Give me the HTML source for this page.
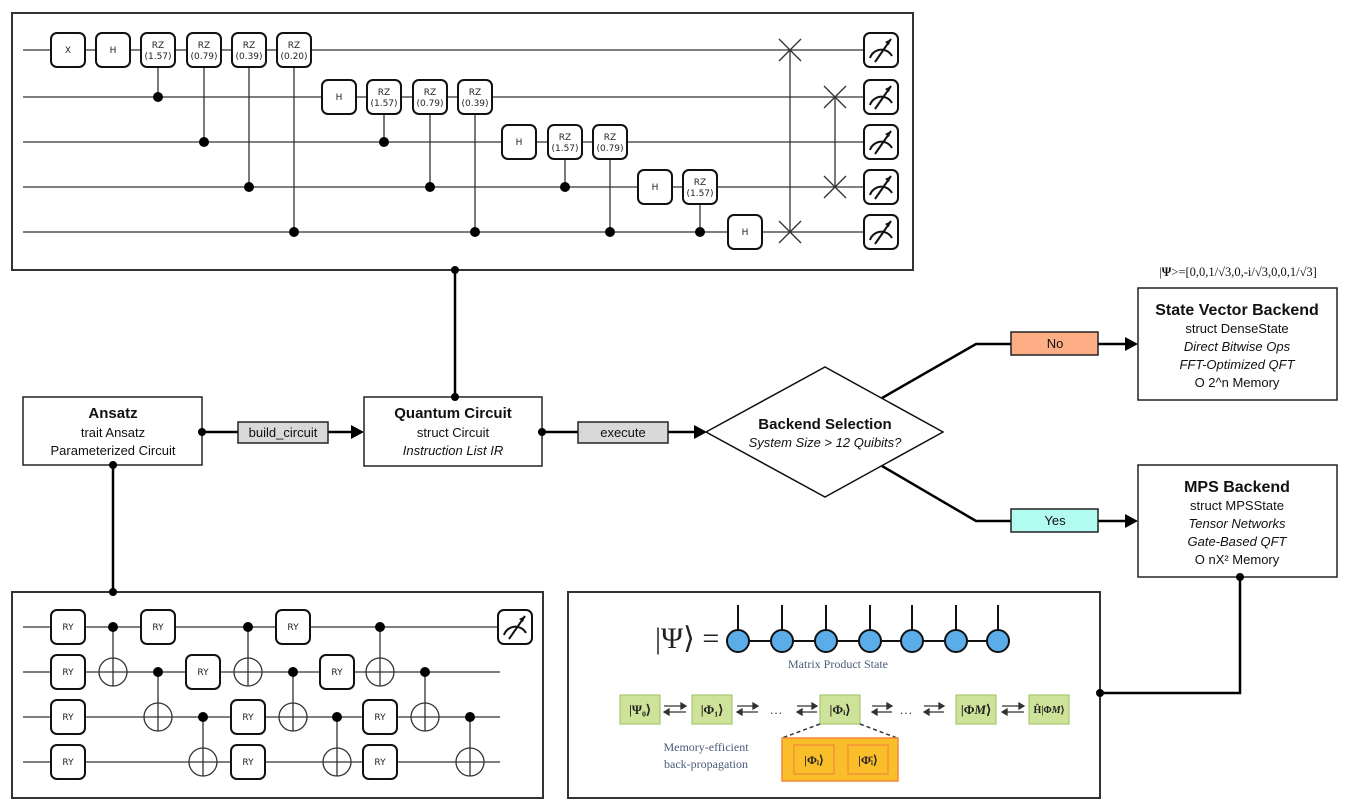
<!DOCTYPE html>
<html><head><meta charset="utf-8"><style>
html,body{margin:0;padding:0;background:#fff;}
svg{display:block;}
.g{fill:#fff;stroke:#111;stroke-width:2;}
.w{stroke:#333;stroke-width:1.3;fill:none;}
.gt{font-family:"DejaVu Sans",sans-serif;font-size:9px;fill:#222;text-anchor:middle;}
.n{font-family:"Liberation Sans",sans-serif;text-anchor:middle;fill:#111;}
.sr{font-family:"Liberation Serif",serif;}
</style></head><body>
<svg width="1364" height="809" viewBox="0 0 1364 809" xmlns="http://www.w3.org/2000/svg">
<defs>
<g id="m"><rect x="-17" y="-17" width="34" height="34" rx="6" class="g"/><path d="M-11,8 A12,12 0 0 1 11,6" fill="none" stroke="#111" stroke-width="2"/><line x1="-6" y1="12" x2="10" y2="-11" stroke="#111" stroke-width="2"/><path d="M10,-11 l-6,3 l4,3 z" fill="#111"/></g>
<g id="x"><line x1="-11" y1="-11" x2="11" y2="11" stroke="#333" stroke-width="1.3"/><line x1="-11" y1="11" x2="11" y2="-11" stroke="#333" stroke-width="1.3"/></g>
<g id="t"><circle r="14" fill="#fff" stroke="#333" stroke-width="1.3"/><line x1="-14" x2="14" stroke="#333" stroke-width="1.3"/><line y1="-14" y2="14" stroke="#333" stroke-width="1.3"/></g>
</defs>

<!-- TOP PANEL -->
<rect x="12" y="13" width="901" height="257" fill="#fff" stroke="#333" stroke-width="2"/>
<g class="w">
<line x1="23" y1="50" x2="865" y2="50"/><line x1="23" y1="97" x2="865" y2="97"/><line x1="23" y1="142" x2="865" y2="142"/><line x1="23" y1="187" x2="865" y2="187"/><line x1="23" y1="232" x2="865" y2="232"/>
<line x1="158" y1="50" x2="158" y2="97"/><line x1="204" y1="50" x2="204" y2="142"/><line x1="249" y1="50" x2="249" y2="187"/><line x1="294" y1="50" x2="294" y2="232"/>
<line x1="384" y1="97" x2="384" y2="142"/><line x1="430" y1="97" x2="430" y2="187"/><line x1="475" y1="97" x2="475" y2="232"/>
<line x1="565" y1="142" x2="565" y2="187"/><line x1="610" y1="142" x2="610" y2="232"/><line x1="700" y1="187" x2="700" y2="232"/>
<line x1="790" y1="50" x2="790" y2="232"/><line x1="835" y1="97" x2="835" y2="187"/>
</g>
<g fill="#000"><circle cx="158" cy="97" r="5"/><circle cx="204" cy="142" r="5"/><circle cx="249" cy="187" r="5"/><circle cx="294" cy="232" r="5"/><circle cx="384" cy="142" r="5"/><circle cx="430" cy="187" r="5"/><circle cx="475" cy="232" r="5"/><circle cx="565" cy="187" r="5"/><circle cx="610" cy="232" r="5"/><circle cx="700" cy="232" r="5"/></g>
<use href="#x" x="790" y="50"/><use href="#x" x="790" y="232"/><use href="#x" x="835" y="97"/><use href="#x" x="835" y="187"/>
<g>
<rect x="51" y="33" width="34" height="34" rx="6" class="g"/><text x="68" y="53" class="gt">X</text>
<rect x="96" y="33" width="34" height="34" rx="6" class="g"/><text x="113" y="53" class="gt">H</text>
<rect x="141" y="33" width="34" height="34" rx="6" class="g"/><text x="158" y="48" class="gt">RZ</text><text x="158" y="59" class="gt">(1.57)</text>
<rect x="187" y="33" width="34" height="34" rx="6" class="g"/><text x="204" y="48" class="gt">RZ</text><text x="204" y="59" class="gt">(0.79)</text>
<rect x="232" y="33" width="34" height="34" rx="6" class="g"/><text x="249" y="48" class="gt">RZ</text><text x="249" y="59" class="gt">(0.39)</text>
<rect x="277" y="33" width="34" height="34" rx="6" class="g"/><text x="294" y="48" class="gt">RZ</text><text x="294" y="59" class="gt">(0.20)</text>
<rect x="322" y="80" width="34" height="34" rx="6" class="g"/><text x="339" y="100" class="gt">H</text>
<rect x="367" y="80" width="34" height="34" rx="6" class="g"/><text x="384" y="95" class="gt">RZ</text><text x="384" y="106" class="gt">(1.57)</text>
<rect x="413" y="80" width="34" height="34" rx="6" class="g"/><text x="430" y="95" class="gt">RZ</text><text x="430" y="106" class="gt">(0.79)</text>
<rect x="458" y="80" width="34" height="34" rx="6" class="g"/><text x="475" y="95" class="gt">RZ</text><text x="475" y="106" class="gt">(0.39)</text>
<rect x="502" y="125" width="34" height="34" rx="6" class="g"/><text x="519" y="145" class="gt">H</text>
<rect x="548" y="125" width="34" height="34" rx="6" class="g"/><text x="565" y="140" class="gt">RZ</text><text x="565" y="151" class="gt">(1.57)</text>
<rect x="593" y="125" width="34" height="34" rx="6" class="g"/><text x="610" y="140" class="gt">RZ</text><text x="610" y="151" class="gt">(0.79)</text>
<rect x="638" y="170" width="34" height="34" rx="6" class="g"/><text x="655" y="190" class="gt">H</text>
<rect x="683" y="170" width="34" height="34" rx="6" class="g"/><text x="700" y="185" class="gt">RZ</text><text x="700" y="196" class="gt">(1.57)</text>
<rect x="728" y="215" width="34" height="34" rx="6" class="g"/><text x="745" y="235" class="gt">H</text>
</g>
<use href="#m" x="881" y="50"/><use href="#m" x="881" y="97"/><use href="#m" x="881" y="142"/><use href="#m" x="881" y="187"/><use href="#m" x="881" y="232"/>

<!-- BOTTOM LEFT PANEL -->
<rect x="12" y="592" width="531" height="206" fill="#fff" stroke="#333" stroke-width="2"/>
<g class="w">
<line x1="23" y1="627" x2="500" y2="627"/><line x1="23" y1="672" x2="500" y2="672"/><line x1="23" y1="717" x2="500" y2="717"/><line x1="23" y1="762" x2="500" y2="762"/>
<line x1="113" y1="627" x2="113" y2="686"/><line x1="158" y1="672" x2="158" y2="731"/><line x1="203" y1="717" x2="203" y2="776"/>
<line x1="248" y1="627" x2="248" y2="686"/><line x1="293" y1="672" x2="293" y2="731"/><line x1="337" y1="717" x2="337" y2="776"/>
<line x1="380" y1="627" x2="380" y2="686"/><line x1="425" y1="672" x2="425" y2="731"/><line x1="470" y1="717" x2="470" y2="776"/>
</g>
<use href="#t" x="113" y="672"/><use href="#t" x="158" y="717"/><use href="#t" x="203" y="762"/><use href="#t" x="248" y="672"/><use href="#t" x="293" y="717"/><use href="#t" x="337" y="762"/><use href="#t" x="380" y="672"/><use href="#t" x="425" y="717"/><use href="#t" x="470" y="762"/>
<g fill="#000"><circle cx="113" cy="627" r="5"/><circle cx="158" cy="672" r="5"/><circle cx="203" cy="717" r="5"/><circle cx="248" cy="627" r="5"/><circle cx="293" cy="672" r="5"/><circle cx="337" cy="717" r="5"/><circle cx="380" cy="627" r="5"/><circle cx="425" cy="672" r="5"/><circle cx="470" cy="717" r="5"/></g>
<g>
<rect x="51" y="610" width="34" height="34" rx="6" class="g"/><text x="68" y="630" class="gt">RY</text>
<rect x="51" y="655" width="34" height="34" rx="6" class="g"/><text x="68" y="675" class="gt">RY</text>
<rect x="51" y="700" width="34" height="34" rx="6" class="g"/><text x="68" y="720" class="gt">RY</text>
<rect x="51" y="745" width="34" height="34" rx="6" class="g"/><text x="68" y="765" class="gt">RY</text>
<rect x="141" y="610" width="34" height="34" rx="6" class="g"/><text x="158" y="630" class="gt">RY</text>
<rect x="186" y="655" width="34" height="34" rx="6" class="g"/><text x="203" y="675" class="gt">RY</text>
<rect x="231" y="700" width="34" height="34" rx="6" class="g"/><text x="248" y="720" class="gt">RY</text>
<rect x="231" y="745" width="34" height="34" rx="6" class="g"/><text x="248" y="765" class="gt">RY</text>
<rect x="276" y="610" width="34" height="34" rx="6" class="g"/><text x="293" y="630" class="gt">RY</text>
<rect x="320" y="655" width="34" height="34" rx="6" class="g"/><text x="337" y="675" class="gt">RY</text>
<rect x="363" y="700" width="34" height="34" rx="6" class="g"/><text x="380" y="720" class="gt">RY</text>
<rect x="363" y="745" width="34" height="34" rx="6" class="g"/><text x="380" y="765" class="gt">RY</text>
</g>
<use href="#m" x="515" y="627"/>

<!-- BOTTOM RIGHT PANEL -->
<rect x="568" y="592" width="532" height="206" fill="#fff" stroke="#333" stroke-width="2"/>
<text x="655" y="648" class="sr" font-size="30" fill="#222">|Ψ⟩ =</text>
<line x1="738" y1="641" x2="998" y2="641" stroke="#111" stroke-width="2"/>
<g stroke="#111" stroke-width="2" fill="#5aade8">
<line x1="738" y1="605" x2="738" y2="641"/><line x1="782" y1="605" x2="782" y2="641"/><line x1="826" y1="605" x2="826" y2="641"/><line x1="870" y1="605" x2="870" y2="641"/><line x1="912" y1="605" x2="912" y2="641"/><line x1="956" y1="605" x2="956" y2="641"/><line x1="998" y1="605" x2="998" y2="641"/>
<circle cx="738" cy="641" r="11"/><circle cx="782" cy="641" r="11"/><circle cx="826" cy="641" r="11"/><circle cx="870" cy="641" r="11"/><circle cx="912" cy="641" r="11"/><circle cx="956" cy="641" r="11"/><circle cx="998" cy="641" r="11"/>
</g>
<text x="838" y="668" class="sr" font-size="12" fill="#4a5a7a" text-anchor="middle">Matrix Product State</text>
<g fill="#cde39a" stroke="#a8c870" stroke-width="1.2">
<rect x="620" y="695" width="40" height="29"/><rect x="692" y="695" width="40" height="29"/><rect x="820" y="695" width="40" height="29"/><rect x="956" y="695" width="40" height="29"/><rect x="1029" y="695" width="40" height="29"/>
</g>
<g class="sr" font-size="13" font-weight="bold" fill="#222" text-anchor="middle">
<text x="640" y="714">|Ψ₀⟩</text><text x="712" y="714">|Φ₁⟩</text><text x="840" y="714">|Φᵢ⟩</text><text x="976" y="714">|Φ<tspan font-style="italic">M</tspan>⟩</text><text x="1049" y="713" font-size="10">Ĥ|Φ<tspan font-style="italic">M</tspan>⟩</text>
</g>
<g stroke="#333" stroke-width="1.3" fill="#333">
<g><line x1="664" y1="706" x2="686" y2="706"/><path d="M686,706 l-5,-3 v6z"/><line x1="664" y1="712" x2="686" y2="712"/><path d="M664,712 l5,-3 v6z"/></g>
<g><line x1="737" y1="706" x2="758" y2="706"/><path d="M758,706 l-5,-3 v6z"/><line x1="737" y1="712" x2="758" y2="712"/><path d="M737,712 l5,-3 v6z"/></g>
<g><line x1="797" y1="706" x2="817" y2="706"/><path d="M817,706 l-5,-3 v6z"/><line x1="797" y1="712" x2="817" y2="712"/><path d="M797,712 l5,-3 v6z"/></g>
<g><line x1="872" y1="706" x2="892" y2="706"/><path d="M892,706 l-5,-3 v6z"/><line x1="872" y1="712" x2="892" y2="712"/><path d="M872,712 l5,-3 v6z"/></g>
<g><line x1="924" y1="706" x2="944" y2="706"/><path d="M944,706 l-5,-3 v6z"/><line x1="924" y1="712" x2="944" y2="712"/><path d="M924,712 l5,-3 v6z"/></g>
<g><line x1="1002" y1="706" x2="1024" y2="706"/><path d="M1024,706 l-5,-3 v6z"/><line x1="1002" y1="712" x2="1024" y2="712"/><path d="M1002,712 l5,-3 v6z"/></g>
</g>
<text x="776" y="714" class="sr" font-size="13" fill="#333" text-anchor="middle">…</text>
<text x="906" y="714" class="sr" font-size="13" fill="#333" text-anchor="middle">…</text>
<g stroke="#333" stroke-width="1.5" stroke-dasharray="4,3"><line x1="820" y1="724" x2="782" y2="738"/><line x1="860" y1="724" x2="897" y2="738"/></g>
<rect x="782" y="738" width="116" height="43" fill="#f9be2a" stroke="#f08a3c" stroke-width="1.5"/>
<rect x="794" y="745" width="40" height="29" fill="#f9be2a" stroke="#f08a3c" stroke-width="1.2"/>
<rect x="848" y="745" width="40" height="29" fill="#f9be2a" stroke="#f08a3c" stroke-width="1.2"/>
<text x="814" y="764" class="sr" font-size="12" font-weight="bold" fill="#222" text-anchor="middle">|Φᵢ⟩</text>
<text x="868" y="764" class="sr" font-size="12" font-weight="bold" fill="#222" text-anchor="middle">|Φ̄ᵢ⟩</text>
<text x="706" y="751" class="sr" font-size="12" fill="#4a5a7a" text-anchor="middle">Memory-efficient</text>
<text x="706" y="768" class="sr" font-size="12" fill="#4a5a7a" text-anchor="middle">back-propagation</text>

<!-- CONNECTORS -->
<g stroke="#000" stroke-width="2.5" fill="none">
<line x1="455" y1="270" x2="455" y2="397"/>
<line x1="113" y1="465" x2="113" y2="592"/>
<line x1="202" y1="432" x2="238" y2="432"/><line x1="328" y1="432" x2="352" y2="432"/>
<line x1="542" y1="432" x2="578" y2="432"/><line x1="668" y1="432" x2="694" y2="432"/>
<polyline points="882,398 976,344 1011,344"/><line x1="1098" y1="344" x2="1126" y2="344"/>
<polyline points="882,466 976,521 1011,521"/><line x1="1098" y1="521" x2="1126" y2="521"/>
<polyline points="1240,577 1240,693 1100,693"/>
</g>
<g fill="#000">
<path d="M364,432 l-13,-7 v14z"/><path d="M707,432 l-13,-7 v14z"/>
<path d="M1138,344 l-13,-7 v14z"/><path d="M1138,521 l-13,-7 v14z"/>
</g>

<!-- NODES -->
<rect x="23" y="397" width="179" height="68" fill="#fff" stroke="#222" stroke-width="1.5"/>
<text x="113" y="418" class="n" font-size="15" font-weight="bold">Ansatz</text>
<text x="113" y="437" class="n" font-size="13">trait Ansatz</text>
<text x="113" y="455" class="n" font-size="13">Parameterized Circuit</text>

<rect x="238" y="422" width="90" height="21" fill="#d9d9d9" stroke="#222" stroke-width="1.5"/>
<text x="283" y="437" class="n" font-size="13">build_circuit</text>

<rect x="364" y="397" width="178" height="69" fill="#fff" stroke="#222" stroke-width="1.5"/>
<text x="453" y="418" class="n" font-size="15" font-weight="bold">Quantum Circuit</text>
<text x="453" y="437" class="n" font-size="13">struct Circuit</text>
<text x="453" y="455" class="n" font-size="13" font-style="italic">Instruction List IR</text>

<rect x="578" y="422" width="90" height="21" fill="#d9d9d9" stroke="#222" stroke-width="1.5"/>
<text x="623" y="437" class="n" font-size="13">execute</text>

<polygon points="706,432 825,367 943,432 825,497" fill="#fff" stroke="#111" stroke-width="1.5"/>
<text x="825" y="429" class="n" font-size="15" font-weight="bold">Backend Selection</text>
<text x="825" y="447" class="n" font-size="13" font-style="italic">System Size &gt; 12 Quibits?</text>

<rect x="1011" y="332" width="87" height="23" fill="#fdae85" stroke="#222" stroke-width="1.5"/>
<text x="1055" y="348" class="n" font-size="13">No</text>
<rect x="1011" y="509" width="87" height="23" fill="#b1fbf0" stroke="#222" stroke-width="1.5"/>
<text x="1055" y="525" class="n" font-size="13">Yes</text>

<text x="1238" y="276" class="sr" font-size="12.5" fill="#111" text-anchor="middle">|<tspan font-weight="bold">Ψ</tspan>&gt;=[0,0,1/√3,0,-i/√3,0,0,1/√3]</text>
<rect x="1138" y="288" width="199" height="112" fill="#fff" stroke="#222" stroke-width="1.5"/>
<text x="1237" y="315" class="n" font-size="16" font-weight="bold">State Vector Backend</text>
<text x="1237" y="333" class="n" font-size="13">struct DenseState</text>
<text x="1237" y="351" class="n" font-size="13" font-style="italic">Direct Bitwise Ops</text>
<text x="1237" y="369" class="n" font-size="13" font-style="italic">FFT-Optimized QFT</text>
<text x="1237" y="387" class="n" font-size="13">O 2^n Memory</text>

<rect x="1138" y="465" width="199" height="112" fill="#fff" stroke="#222" stroke-width="1.5"/>
<text x="1237" y="492" class="n" font-size="16" font-weight="bold">MPS Backend</text>
<text x="1237" y="510" class="n" font-size="13">struct MPSState</text>
<text x="1237" y="528" class="n" font-size="13" font-style="italic">Tensor Networks</text>
<text x="1237" y="546" class="n" font-size="13" font-style="italic">Gate-Based QFT</text>
<text x="1237" y="564" class="n" font-size="13">O nX² Memory</text>

<g fill="#000">
<circle cx="455" cy="270" r="4"/><circle cx="455" cy="397" r="4"/><circle cx="113" cy="465" r="4"/><circle cx="113" cy="592" r="4"/>
<circle cx="202" cy="432" r="4"/><circle cx="542" cy="432" r="4"/><circle cx="1240" cy="577" r="4"/><circle cx="1100" cy="693" r="4"/>
</g>
</svg>
</body></html>
